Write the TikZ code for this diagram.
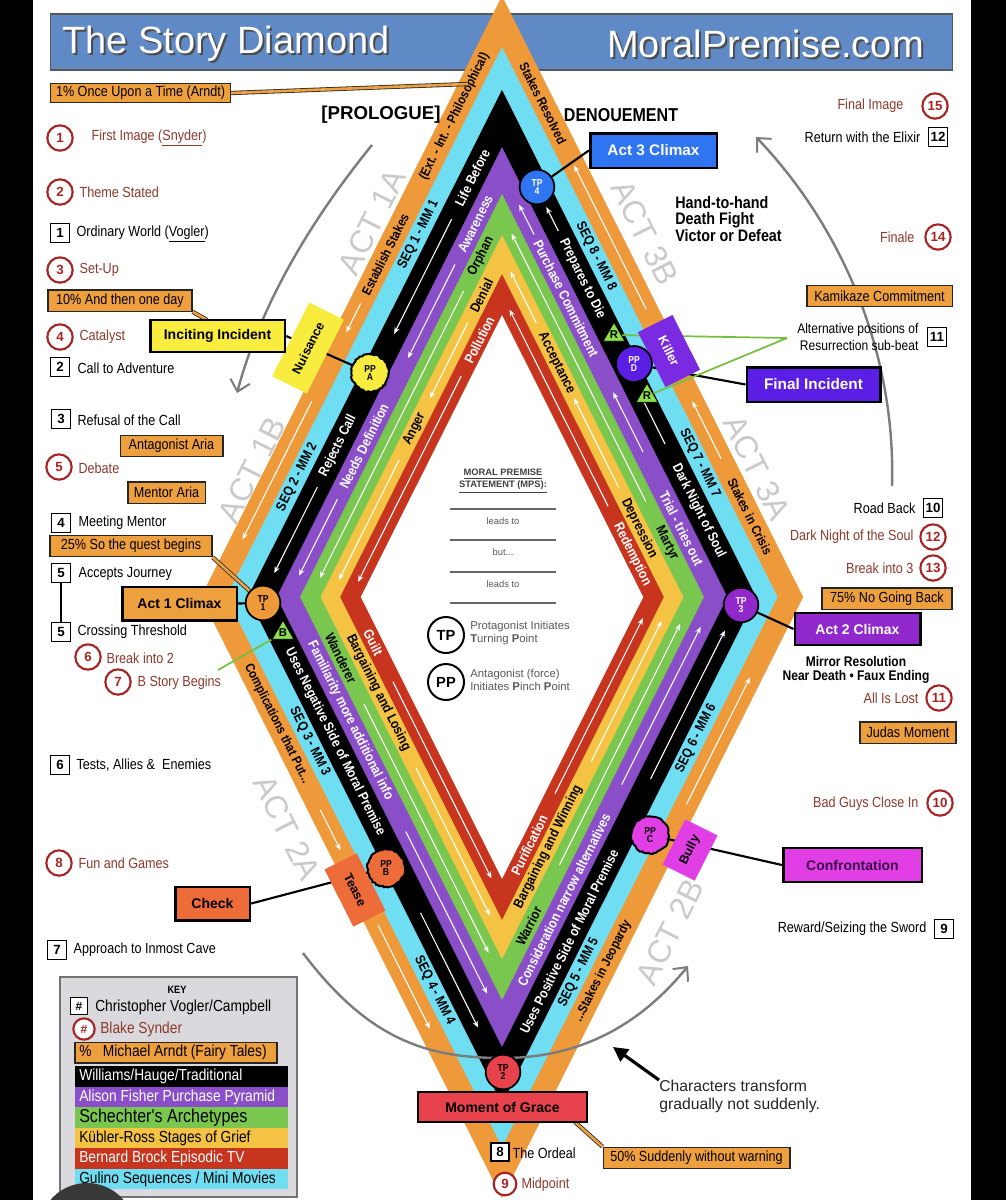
\documentclass[tikz,border=0pt]{standalone}
\usepackage{fontspec}
\setmainfont{Liberation Sans}
\newfontfamily\nar[FakeStretch=0.86]{Liberation Sans}
\usetikzlibrary{calc,arrows.meta,shapes.geometric,decorations.pathmorphing}
\definecolor{orB}{HTML}{EE9A3A}
\definecolor{cyB}{HTML}{6FDDF2}
\definecolor{puB}{HTML}{8A4FC8}
\definecolor{grB}{HTML}{7AC74F}
\definecolor{yeB}{HTML}{F5C343}
\definecolor{reB}{HTML}{C8351F}
\definecolor{arndt}{HTML}{EFA03E}
\definecolor{snyred}{HTML}{A82424}
\definecolor{snytx}{HTML}{8C3A2C}
\definecolor{titleblue}{HTML}{5F8AC6}
\definecolor{actgrey}{HTML}{CACACA}
\definecolor{arcgrey}{HTML}{7C7C7C}
\definecolor{incyel}{HTML}{F8EC3E}
\definecolor{athreeblue}{HTML}{2F74F0}
\definecolor{fiviolet}{HTML}{5A1EE4}
\definecolor{atwopurple}{HTML}{9128CC}
\definecolor{killerc}{HTML}{7A2BE2}
\definecolor{magc}{HTML}{E23EE6}
\definecolor{teasec}{HTML}{EE6B3A}
\definecolor{gracec}{HTML}{E8434C}
\definecolor{rgreen}{HTML}{8BE04B}
\definecolor{keygrey}{HTML}{D9D9DE}
\definecolor{confpurple}{HTML}{3A0848}
\pgfdeclarelayer{back}
\pgfdeclarelayer{mid}
\pgfsetlayers{back,mid,main}
\tikzset{
  bandtxt/.style={font=\nar\bfseries\fontsize{10.3}{11}\selectfont, inner sep=0pt},
  obandtxt/.style={font=\nar\bfseries\fontsize{9.8}{11}\selectfont, inner sep=0pt},
  warr/.style={draw=white, line width=0.8pt, -{Stealth[length=5pt,width=4pt]}},
  snyc/.style={circle, draw=snyred, line width=1.6pt, fill=white, minimum size=19pt, inner sep=0pt, font=\bfseries\fontsize{10}{10}\selectfont, text=snyred},
  vogb/.style={rectangle, draw=black, line width=1.1pt, fill=white, minimum size=14.5pt, inner sep=0pt, font=\bfseries\fontsize{10}{10}\selectfont},
  snyt/.style={font=\nar\fontsize{11}{12}\selectfont, text=snytx, inner sep=1pt},
  vogt/.style={font=\nar\fontsize{11}{12}\selectfont, text=black, inner sep=1pt},
  arnb/.style={rectangle, fill=arndt, draw=black!85, line width=1pt, font=\nar\fontsize{11}{12}\selectfont, inner sep=0pt, minimum height=16pt},
  callb/.style={rectangle, draw=black, line width=2pt, font=\bfseries\fontsize{10.5}{12}\selectfont, inner sep=0pt},
  bandbox/.style={rectangle, font=\bfseries\fontsize{9.5}{10}\selectfont, inner sep=0pt},
  tpc/.style={circle, draw=black, line width=1.3pt, minimum size=26pt, inner sep=0pt, align=center, font=\nar\bfseries\fontsize{7.5}{6.5}\selectfont},
  ppcir/.style={tpc, minimum size=28pt, line width=1.5pt, decorate, decoration={random steps, segment length=1.6pt, amplitude=0.6pt}},
  actl/.style={font=\fontsize{24}{24}\selectfont, text=actgrey, inner sep=0pt},
  greyarc/.style={draw=arcgrey, line width=1.8pt, -{Straight Barb[length=8pt,width=15pt,line width=1.5pt]}},
  orline/.style={draw=black!85, double=arndt, double distance=2pt, line width=0.6pt},
  conn/.style={draw=black, line width=1.6pt},
  gconn/.style={draw=rgreen!85!black, line width=1.3pt},
  rtri/.style={regular polygon, regular polygon sides=3, fill=rgreen, draw=black, line width=0.6pt, minimum size=19pt, inner sep=0pt, font=\bfseries\fontsize{8.5}{8}\selectfont},
  keyrow/.style={rectangle, minimum width=160pt, minimum height=15.4pt, inner sep=0pt},
  keytxt/.style={anchor=west, inner sep=0pt, font=\nar\fontsize{12}{12}\selectfont},
  titletxt/.style={font=\fontsize{28.5}{30}\selectfont, inner sep=0pt},
  mpstxt/.style={font=\fontsize{7}{8}\selectfont, text=black!65, inner sep=1pt},
}
\newcommand{\bandtext}[6]{\path (#2) -- (#3) node[bandtxt, sloped, pos=#4, text=#5] (#1) {#6};}
\newcommand{\obandtext}[5]{\path (#2) -- (#3) node[obandtxt, sloped, pos=#4] (#1) {#5};}
\newcommand{\whitearrow}[4]{\draw[warr] ($(#1)!#3!(#2)$) -- ($(#1)!#4!(#2)$);}
\begin{document}
\begin{tikzpicture}[x=0.75pt,y=-0.75pt]
\useasboundingbox (0,0) rectangle (1006,1200);
\begin{pgfonlayer}{back}
\fill[white] (0,0) rectangle (1006,1200);
\fill[black] (0,0) rectangle (33,1200);
\fill[black] (971,0) rectangle (1006,1200);
% title bar
\node[rectangle, fill=titleblue, draw=black!65, line width=1.2pt, minimum width=676.5pt, minimum height=42pt] (title) at (501.5,42) {};
\node[titletxt, anchor=west, text=black!70] (tsha) at (64,45.5) {The Story Diamond};
\node[titletxt, anchor=west, text=white] (ttla) at (62,43.5) {The Story Diamond};
\node[titletxt, anchor=east, text=black!70] (tshb) at (926,45.5) {MoralPremise.com};
\node[titletxt, anchor=east, text=white] (ttlb) at (924,43.5) {MoralPremise.com};
% band geometry
\foreach \n/\k in {o1/1.26, c1/1.153, k1/1.063, p1/0.943, g1/0.845, y1/0.759, r1/0.677, w1/0.591,
  oc/1.2065, cc/1.108, kc/1.003, pc/0.894, gc/0.802, yc/0.718, rc/0.634}{
  \coordinate (\n T) at (502,{597-477*\k});
  \coordinate (\n L) at ({502-239*\k},597);
  \coordinate (\n B) at (502,{597+477*\k});
  \coordinate (\n R) at ({502+239*\k},597);
}
\foreach \n/\c in {o1/orB, c1/cyB, k1/black, p1/puB, g1/grB, y1/yeB, r1/reB, w1/white}{
  \fill[\c] (\n T) -- (\n L) -- (\n B) -- (\n R) -- cycle;
}
% orange band
\obandtext{oULa}{ocT}{ocL}{0.165}{(Ext. - Int. - Philosophical)}
\obandtext{oULb}{ocT}{ocL}{0.405}{Establish Stakes}
\whitearrow{ocT}{ocL}{0.49}{0.54}
\whitearrow{ocT}{ocL}{0.66}{0.9}
\obandtext{oURa}{ocT}{ocR}{0.142}{Stakes Resolved}
\whitearrow{ocT}{ocR}{0.5}{0.25}
\whitearrow{ocT}{ocR}{0.76}{0.66}
\obandtext{oURb}{ocT}{ocR}{0.86}{Stakes in Crisis}
\obandtext{oLLa}{ocL}{ocB}{0.22}{Complications that Put...}
\whitearrow{ocL}{ocB}{0.37}{0.44}
\whitearrow{ocL}{ocB}{0.57}{0.75}
\obandtext{oLRa}{ocB}{ocR}{0.35}{...Stakes in Jeopardy}
\whitearrow{ocB}{ocR}{0.64}{0.86}
% cyan band
\bandtext{cULa}{ccT}{ccL}{0.315}{black}{SEQ 1 - MM 1}
\bandtext{cULb}{ccT}{ccL}{0.773}{black}{SEQ 2 - MM 2}
\bandtext{cURa}{ccT}{ccR}{0.355}{black}{SEQ 8 - MM 8}
\bandtext{cURb}{ccT}{ccR}{0.747}{black}{SEQ 7 - MM 7}
\bandtext{cLLa}{ccL}{ccB}{0.274}{black}{SEQ 3 - MM 3}
\bandtext{cLLb}{ccL}{ccB}{0.745}{black}{SEQ 4 - MM 4}
\bandtext{cLRa}{ccB}{ccR}{0.29}{black}{SEQ 5 - MM 5}
\bandtext{cLRb}{ccB}{ccR}{0.733}{black}{SEQ 6 - MM 6}
% black band
\bandtext{kULa}{kcT}{kcL}{0.124}{white}{Life Before}
\whitearrow{kcT}{kcL}{0.21}{0.45}
\bandtext{kULb}{kcT}{kcL}{0.684}{white}{Rejects Call}
\whitearrow{kcT}{kcL}{0.77}{0.95}
\whitearrow{kcT}{kcR}{0.235}{0.185}
\bandtext{kURa}{kcT}{kcR}{0.335}{white}{Prepares to Die}
\whitearrow{kcT}{kcR}{0.68}{0.58}
\bandtext{kURb}{kcT}{kcR}{0.82}{white}{Dark Night of Soul}
\bandtext{kLLa}{kcL}{kcB}{0.303}{white}{Uses Negative Side of Moral Premise}
\whitearrow{kcL}{kcB}{0.66}{0.9}
\bandtext{kLRa}{kcB}{kcR}{0.28}{white}{Uses Positive Side of Moral Premise}
\whitearrow{kcB}{kcR}{0.62}{0.93}
% purple band
\bandtext{pULa}{pcT}{pcL}{0.125}{white}{Awareness}
\whitearrow{pcT}{pcL}{0.22}{0.44}
\bandtext{pULb}{pcT}{pcL}{0.646}{white}{Needs Definition}
\whitearrow{pcT}{pcL}{0.77}{0.95}
\whitearrow{pcT}{pcR}{0.15}{0.08}
\bandtext{pURa}{pcT}{pcR}{0.3}{white}{Purchase Commitment}
\whitearrow{pcT}{pcR}{0.66}{0.52}
\bandtext{pURb}{pcT}{pcR}{0.84}{white}{Trial - tries out}
\bandtext{pLLa}{pcL}{pcB}{0.29}{white}{Familiarity more additional info}
\whitearrow{pcL}{pcB}{0.55}{0.93}
\bandtext{pLRa}{pcB}{pcR}{0.29}{white}{Consideration narrow alternatives}
\whitearrow{pcB}{pcR}{0.56}{0.93}
% green band
\bandtext{gULa}{gcT}{gcL}{0.11}{black}{Orphan}
\whitearrow{gcT}{gcL}{0.2}{0.95}
\whitearrow{gcT}{gcR}{0.75}{0.05}
\bandtext{gURa}{gcT}{gcR}{0.86}{black}{Martyr}
\bandtext{gLLa}{gcL}{gcB}{0.16}{black}{Wanderer}
\whitearrow{gcL}{gcB}{0.28}{0.93}
\bandtext{gLRa}{gcB}{gcR}{0.14}{black}{Warrior}
\whitearrow{gcB}{gcR}{0.3}{0.93}
% yellow band
\bandtext{yULa}{ycT}{ycL}{0.12}{black}{Denial}
\whitearrow{ycT}{ycL}{0.2}{0.42}
\bandtext{yULb}{ycT}{ycL}{0.51}{black}{Anger}
\whitearrow{ycT}{ycL}{0.6}{0.95}
\whitearrow{ycT}{ycR}{0.2}{0.05}
\bandtext{yURa}{ycT}{ycR}{0.317}{black}{Acceptance}
\whitearrow{ycT}{ycR}{0.68}{0.42}
\bandtext{yURb}{ycT}{ycR}{0.8}{black}{Depression}
\bandtext{yLLa}{ycL}{ycB}{0.28}{black}{Bargaining and Losing}
\whitearrow{ycL}{ycB}{0.5}{0.93}
\bandtext{yLRa}{ycB}{ycR}{0.27}{black}{Bargaining and Winning}
\whitearrow{ycB}{ycR}{0.52}{0.93}
% red band
\bandtext{rULa}{rcT}{rcL}{0.15}{white}{Pollution}
\whitearrow{rcT}{rcL}{0.27}{0.95}
\whitearrow{rcT}{rcR}{0.7}{0.05}
\bandtext{rURa}{rcT}{rcR}{0.86}{white}{Redemption}
\bandtext{rLLa}{rcL}{rcB}{0.15}{white}{Guilt}
\whitearrow{rcL}{rcB}{0.28}{0.93}
\bandtext{rLRa}{rcB}{rcR}{0.18}{white}{Purification}
\whitearrow{rcB}{rcR}{0.35}{0.93}
% act labels
\node[actl, rotate=63.4] (actia) at (372,222) {ACT 1A};
\node[actl, rotate=63.4] (actib) at (252,470) {ACT 1B};
\node[actl, rotate=-63.4] (actiia) at (287,828) {ACT 2A};
\node[actl, rotate=63.4] (actiib) at (670,932) {ACT 2B};
\node[actl, rotate=-63.4] (actiiia) at (757,468) {ACT 3A};
\node[actl, rotate=-63.4] (actiiib) at (645,233) {ACT 3B};
% grey arcs
\coordinate (arcAa) at (372,145);
\coordinate (arcAb) at (237,393);
\draw[greyarc] (arcAa) .. controls (315,215) and (262,300) .. (arcAb);
\coordinate (arcBa) at (892,486);
\coordinate (arcBb) at (756,137);
\draw[greyarc] (arcBa) .. controls (896,350) and (840,225) .. (arcBb);
\coordinate (arcCa) at (303,953);
\coordinate (arcCm) at (503,1058);
\coordinate (arcCb) at (688,966);
\draw[greyarc] (arcCa) .. controls (370,1042) and (430,1058) .. (arcCm) .. controls (580,1058) and (640,1025) .. (arcCb);
\end{pgfonlayer}

% headings
\node[font=\bfseries\fontsize{14}{14}\selectfont, inner sep=0] (prol) at (381,115) {[PROLOGUE]};
\node[font=\nar\bfseries\fontsize{14}{14}\selectfont, inner sep=0] (denou) at (621,115) {DENOUEMENT};

% moral premise statement
\node[font=\bfseries\fontsize{7}{9}\selectfont, text=black!75, align=center, inner sep=0] (mps) at (503,481) {\underline{MORAL PREMISE}\\\underline{STATEMENT (MPS):}};
\foreach \yy in {509,540,572,603}{\draw[black!60, line width=0.9pt] (450,\yy) -- (556,\yy);}
\node[mpstxt] (mpsa) at (503,521) {leads to};
\node[mpstxt] (mpsb) at (503,552) {but...};
\node[mpstxt] (mpsc) at (503,584) {leads to};
\node[circle, draw=black, line width=1.5pt, minimum size=27pt, inner sep=0, font=\bfseries\fontsize{11}{11}\selectfont] (lgtp) at (446,635) {TP};
\node[anchor=west, align=left, font=\fontsize{8.5}{10}\selectfont, text=black!65, inner sep=0] (lgtpt) at (470,633) {Protagonist Initiates\\\textbf{T}urning \textbf{P}oint};
\node[circle, draw=black, line width=1.5pt, minimum size=27pt, inner sep=0, font=\bfseries\fontsize{11}{11}\selectfont] (lgpp) at (446,682) {PP};
\node[anchor=west, align=left, font=\fontsize{8.5}{10}\selectfont, text=black!65, inner sep=0] (lgppt) at (470,680) {Antagonist (force)\\Initiates \textbf{P}inch \textbf{P}oint};

% band boxes
\node[bandbox, fill=incyel, rotate=63.4, minimum width=62pt, minimum height=29pt] (nuis) at (308,348) {Nuisance};
\node[bandbox, fill=killerc, text=white, rotate=-63.4, minimum width=46pt, minimum height=29pt] (killer) at (669,351) {Killer};
\node[bandbox, fill=teasec, rotate=-63.4, minimum width=48pt, minimum height=27pt] (tease) at (355,890) {Tease};
\node[bandbox, fill=magc, rotate=63.4, minimum width=38pt, minimum height=27pt] (bully) at (690,850) {Bully};

% triangles
\node[rtri] (rU) at (614,335) {R};
\node[rtri] (rL) at (647,396) {R};
\node[rtri] (bT) at (283,633) {B};

% TP / PP circles
\node[tpc, fill=athreeblue, text=white] (tp4) at (537,187) {TP\\4};
\node[ppcir, fill=incyel] (ppA) at (370,373) {PP\\A};
\node[tpc, fill=fiviolet, text=white, minimum size=27pt] (ppD) at (634,364) {PP\\D};
\node[tpc, fill=orB] (tp1) at (263,603) {TP\\1};
\node[tpc, fill=atwopurple, text=white] (tp3) at (741,605) {TP\\3};
\node[ppcir, fill=teasec] (ppB) at (386,868) {PP\\B};
\node[ppcir, fill=magc] (ppC) at (650,835) {PP\\C};
\node[tpc, fill=gracec] (tp2) at (503,1072) {TP\\2};

% callout boxes
\node[callb, fill=incyel, minimum width=101pt, minimum height=24pt] (inc) at (217.5,336) {Inciting Incident};
\node[callb, fill=athreeblue, text=white, minimum width=95pt, minimum height=26pt, font=\bfseries\fontsize{11.5}{12}\selectfont] (a3c) at (653.5,150.5) {Act 3 Climax};
\node[callb, fill=fiviolet, text=white, minimum width=100pt, minimum height=26pt, font=\bfseries\fontsize{11.5}{12}\selectfont] (fin) at (813.5,384.5) {Final Incident};
\node[callb, fill=atwopurple, text=white, minimum width=94pt, minimum height=24pt] (a2c) at (857.5,629) {Act 2 Climax};
\node[callb, fill=arndt, minimum width=86pt, minimum height=25pt] (a1c) at (179.5,603.5) {Act 1 Climax};
\node[callb, fill=magc, text=confpurple, minimum width=104pt, minimum height=25.5pt] (conf) at (852.5,865) {Confrontation};
\node[callb, fill=teasec, minimum width=56pt, minimum height=25pt] (chk) at (212.5,903.5) {Check};
\node[callb, fill=gracec, minimum width=127pt, minimum height=22.5pt, line width=1.6pt] (grace) at (502.5,1107) {Moment of Grace};

% arndt boxes
\node[arnb, anchor=west, inner xsep=4pt, minimum height=14.5pt] (apone) at (50,93) {1\% Once Upon a Time (Arndt)};
\node[arnb, minimum width=108pt] (aten) at (120,300.5) {10\% And then one day};
\node[arnb, minimum width=77pt] (aant) at (171.5,446) {Antagonist Aria};
\node[arnb, minimum width=58pt] (amen) at (166.5,492.5) {Mentor Aria};
\node[arnb, minimum width=121.5pt] (atwf) at (131,546) {25\% So the quest begins};
\node[arnb, minimum width=109pt] (akam) at (879.5,296) {Kamikaze Commitment};
\node[arnb, minimum width=97.5pt] (asvf) at (887,598.5) {75\% No Going Back};
\node[arnb, minimum width=72pt] (ajud) at (908,732.5) {Judas Moment};
\node[arnb, minimum width=140pt] (afif) at (696.5,1158) {50\% Suddenly without warning};

% left column
\node[snyc] (sa) at (60,138) {1};
\node[snyt, anchor=west] (sat) at (90,138) {First Image (\underline{Snyder})};
\node[snyc] (sb) at (60,192) {2};
\node[snyt, anchor=west] (sbt) at (78,192) {Theme Stated};
\node[vogb] (va) at (60,233) {1};
\node[vogt, anchor=west] (vat) at (75,234) {Ordinary World (\underline{Vogler})};
\node[snyc] (sc) at (60,270) {3};
\node[snyt, anchor=west] (sct) at (78,270) {Set-Up};
\node[snyc] (sd) at (60,337) {4};
\node[snyt, anchor=west] (sdt) at (78,337) {Catalyst};
\node[vogb] (vb) at (60,367) {2};
\node[vogt, anchor=west] (vbt) at (76,368) {Call to Adventure};
\node[vogb] (vc) at (61,419) {3};
\node[vogt, anchor=west] (vct) at (76,420) {Refusal of the Call};
\node[snyc] (se) at (59,467) {5};
\node[snyt, anchor=west] (set) at (77,468) {Debate};
\node[vogb] (vd) at (61,523) {4};
\node[vogt, anchor=west] (vdt) at (77,523) {Meeting Mentor};
\node[vogb] (vea) at (61,573) {5};
\node[vogt, anchor=west] (veat) at (77,574) {Accepts Journey};
\node[vogb] (veb) at (61,632) {5};
\node[vogt, anchor=west] (vebt) at (76,632) {Crossing Threshold};
\node[snyc] (sf) at (88,657) {6};
\node[snyt, anchor=west] (sft) at (105,658) {Break into 2};
\node[snyc] (sg) at (118,682) {7};
\node[snyt, anchor=west] (sgt) at (136,683) {B Story Begins};
\node[vogb] (vf) at (60,765) {6};
\node[vogt, anchor=west] (vft) at (75,765) {Tests, Allies \&\ \ Enemies};
\node[snyc] (sh) at (59,863) {8};
\node[snyt, anchor=west] (sht) at (77,863) {Fun and Games};
\node[vogb] (vg) at (57,950) {7};
\node[vogt, anchor=west] (vgt) at (72,950) {Approach to Inmost Cave};

% right column
\node[snyc] (so) at (935,106) {15};
\node[snyt, anchor=east] (sot) at (905,106) {Final Image};
\node[vogb] (vl) at (938,137) {12};
\node[vogt, anchor=east] (vlt) at (922,137) {Return with the Elixir};
\node[anchor=north west, align=left, font=\nar\bfseries\fontsize{12.5}{12.3}\selectfont, inner sep=0] (hth) at (675,196) {Hand-to-hand\\Death Fight\\Victor or Defeat};
\node[snyc] (sn) at (938,237) {14};
\node[snyt, anchor=east] (snt) at (916,237) {Finale};
\node[vogb] (vk) at (937,337) {11};
\node[vogt, anchor=east, align=right, font=\nar\fontsize{10.5}{13}\selectfont] (altt) at (920,337) {Alternative positions of\\Resurrection sub-beat};
\node[vogb] (vj) at (933,508) {10};
\node[vogt, anchor=east] (vjt) at (917,508) {Road Back};
\node[snyc] (sl) at (933,537) {12};
\node[snyt, anchor=east] (slt) at (915,537) {Dark Night of the Soul};
\node[snyc] (sm) at (933,568) {13};
\node[snyt, anchor=east] (smt) at (915,568) {Break into 3};
\node[align=center, font=\nar\bfseries\fontsize{10.5}{10.8}\selectfont, inner sep=0] (mirror) at (856,670) {Mirror Resolution\\Near Death • Faux Ending};
\node[snyc] (sk) at (939,698) {11};
\node[snyt, anchor=east] (skt) at (920,698) {All Is Lost};
\node[snyc] (sj) at (940,803) {10};
\node[snyt, anchor=east] (sjt) at (920,804) {Bad Guys Close In};
\node[vogb] (vi) at (944,929) {9};
\node[vogt, anchor=east] (vit) at (928,929) {Reward/Seizing the Sword};

% bottom
\node[vogb, minimum size=13.5pt] (vh) at (500,1152) {8};
\node[vogt, anchor=west] (vht) at (511,1153) {The Ordeal};
\node[snyc, minimum size=17pt] (si) at (505,1184) {9};
\node[snyt, anchor=west] (sit) at (520,1185) {Midpoint};
\node[anchor=north west, align=left, font=\fontsize{11.8}{13}\selectfont, text=black!85, inner sep=0] (chtxt) at (659,1080) {Characters transform\\gradually not suddenly.};

% key
\node[rectangle, draw=black!55, fill=keygrey, line width=1.2pt, minimum width=177.75pt, minimum height=165pt] (key) at (178.5,1087) {};
\node[font=\nar\bfseries\fontsize{8}{8}\selectfont, inner sep=0] (keyt) at (177,990) {KEY};
\node[vogb, minimum size=13pt, font=\bfseries\fontsize{9}{9}\selectfont] (kv) at (79,1006) {\#};
\node[keytxt] (kvt) at (95,1007) {Christopher Vogler/Campbell};
\node[snyc, minimum size=16pt, font=\bfseries\fontsize{9}{9}\selectfont] (ks) at (84,1029) {\#};
\node[keytxt, text=snytx] (kst) at (100,1029) {Blake Synder};
\node[arnb, minimum width=151.5pt, minimum height=15.5pt] (kar) at (176,1052.5) {};
\node[keytxt] (kart) at (79,1052.5) {\%\ \ \ Michael Arndt (Fairy Tales)};
\node[keyrow, fill=black] (kra) at (181.5,1076.5) {};
\node[keytxt, text=white] (krat) at (79,1076.5) {Williams/Hauge/Traditional};
\node[keyrow, fill=puB] (krb) at (181.5,1097) {};
\node[keytxt, text=white] (krbt) at (79,1097) {Alison Fisher Purchase Pyramid};
\node[keyrow, fill=grB] (krc) at (181.5,1117.5) {};
\node[keytxt, font=\nar\fontsize{14}{14}\selectfont] (krct) at (79,1117.5) {Schechter's Archetypes};
\node[keyrow, fill=yeB] (krd) at (181.5,1138) {};
\node[keytxt] (krdt) at (79,1138) {Kübler-Ross Stages of Grief};
\node[keyrow, fill=reB] (kre) at (181.5,1158.5) {};
\node[keytxt, text=white] (kret) at (79,1158.5) {Bernard Brock Episodic TV};
\node[keyrow, fill=cyB] (krf) at (181.5,1179) {};
\node[keytxt] (krft) at (79,1179) {Gulino Sequences / Mini Movies};

% free ends of connectors
\coordinate (aponeend) at (468,84);
\coordinate (incjoin) at (207,320);
\coordinate (grjoin) at (575,1122);
\coordinate (altjoin) at (787,338);
\coordinate (bjoin) at (218,670);
\coordinate (charr) at (613,1047);

\begin{pgfonlayer}{mid}
\draw[conn] (inc.east) -- (ppA);
\draw[conn] (a3c.west) -- (tp4);
\draw[conn] (fin.west) -- (ppD);
\draw[conn] (tp3) -- (a2c.west);
\draw[conn] (a1c.east) -- (tp1);
\draw[conn] (chk.east) -- (ppB);
\draw[conn] (conf.west) -- (ppC);
\draw[orline] (apone.east) -- (aponeend);
\draw[orline] (aten.south east) -- (incjoin);
\draw[orline] (atwf.south east) -- (tp1);
\draw[orline] (grjoin) -- (afif.north west);
\draw[gconn] (altjoin) -- (rU);
\draw[gconn] (altjoin) -- (rL);
\draw[gconn] (bT) -- (bjoin);
\draw[line width=1pt] (vea.south) -- (veb.north);
\draw[line width=2.4pt, -{Triangle[length=11pt,width=11pt]}] (chtxt.north west) -- (charr);
\end{pgfonlayer}

% overlay at bottom-left
\fill[black!78] (87,1231) circle[radius=48];
\end{tikzpicture}
\end{document}
